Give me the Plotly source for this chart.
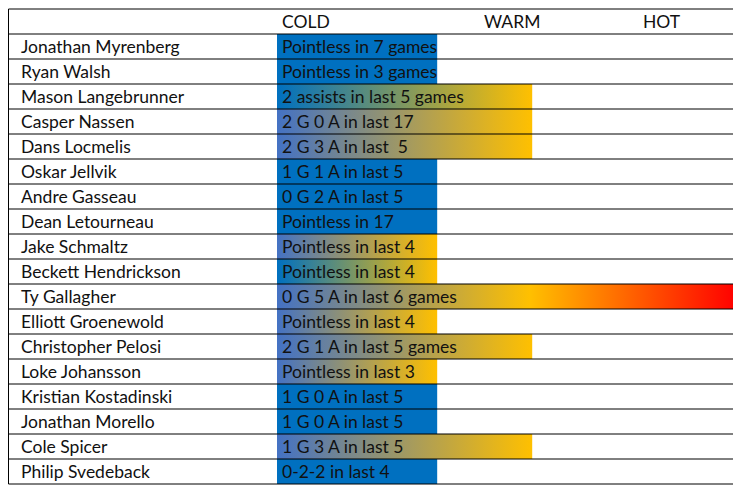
import plotly.graph_objects as go

players = ["Jonathan Myrenberg", "Ryan Walsh", "Mason Langebrunner", "Casper Nassen",
           "Dans Locmelis", "Oskar Jellvik", "Andre Gasseau", "Dean Letourneau",
           "Jake Schmaltz", "Beckett Hendrickson", "Ty Gallagher", "Elliott Groenewold",
           "Christopher Pelosi", "Loke Johansson", "Kristian Kostadinski",
           "Jonathan Morello", "Cole Spicer", "Philip Svedeback"]
notes = ["Pointless in 7 games", "Pointless in 3 games", "2 assists in last 5 games",
         "2 G 0 A in last 17", "2 G 3 A in last  5", "1 G 1 A in last 5",
         "0 G 2 A in last 5", "Pointless in 17", "Pointless in last 4",
         "Pointless in last 4", "0 G 5 A in last 6 games", "Pointless in last 4",
         "2 G 1 A in last 5 games", "Pointless in last 3", "1 G 0 A in last 5",
         "1 G 0 A in last 5", "1 G 3 A in last 5", "0-2-2 in last 4"]
# heat score on a 0-100 scale (COLD ~35, WARM ~56, HOT 100)
heat = [34.9, 34.9, 55.6, 55.6, 55.6, 34.9, 34.9, 34.9, 34.9, 34.9, 100,
        34.9, 55.6, 34.9, 34.9, 34.9, 55.6, 34.9]
# fill style per player
style = ["solid", "solid", "gradA", "gradB", "gradB", "solid", "solid", "solid",
         "gradB", "gradA", "hot", "gradB", "gradB", "gradB", "solid", "solid",
         "gradB", "solid"]
levels = ["COLD", "WARM", "HOT"]
level_pos = [0.6, 44.6, 79.2]

BLUE = "#0070C0"
BLUE2 = "#4472C4"
GOLD = "#FFC000"
RED = "#FF0000"
scales = {
    "gradA": [[0, BLUE], [1, GOLD]],
    "gradB": [[0, BLUE2], [1, GOLD]],
    "hot": [[0, BLUE2], [0.55, GOLD], [1, RED]],
}

OFF = 8  # page body margin
W, H = 741 - OFF, 493 - OFF
L, R, T, B = 0.5, 736 - OFF, 9 - OFF, 484 - OFF
COL = 277 - OFF
FONT = "Lato"
FS = 17.5
nrows = len(players) + 1

fig = go.Figure()
for i, (p, h, s) in enumerate(zip(players, heat, style)):
    y0, y1 = i + 0.5, i + 1.5
    tr = dict(x=[0, h, h, 0, 0], y=[y0, y0, y1, y1, y0], fill="toself",
              mode="lines", line=dict(width=0), hoverinfo="skip", showlegend=False)
    if s == "solid":
        tr["fillcolor"] = BLUE
    else:
        tr["fillgradient"] = dict(type="horizontal", colorscale=scales[s], start=0, stop=h)
    fig.add_trace(go.Scatter(**tr))

annotations = []
for i, (p, n) in enumerate(zip(players, notes)):
    annotations.append(dict(x=10.5 / W, xref="paper", y=i + 1, yref="y", text=p,
                            showarrow=False, xanchor="left", yanchor="middle",
                            font=dict(family=FONT, size=FS, color="#111111")))
    annotations.append(dict(x=0.6, xref="x", y=i + 1, yref="y", text=n,
                            showarrow=False, xanchor="left", yanchor="middle",
                            font=dict(family=FONT, size=FS, color="#111111")))
for lv, xp in zip(levels, level_pos):
    annotations.append(dict(x=xp, xref="x", y=0, yref="y", text=lv, showarrow=False,
                            xanchor="left", yanchor="middle",
                            font=dict(family=FONT, size=FS, color="#111111")))

shapes = []
for k in range(1, nrows):
    shapes.append(dict(type="line", xref="paper", yref="y", x0=L / W, x1=R / W,
                       y0=k - 0.5, y1=k - 0.5, line=dict(color="black", width=1),
                       layer="above"))
shapes.append(dict(type="rect", xref="paper", yref="paper", x0=L / W, x1=R / W,
                   y0=1 - B / H, y1=1 - T / H, line=dict(color="black", width=1),
                   layer="above"))

fig.update_layout(
    width=W, height=H, margin=dict(l=0, r=0, t=0, b=0),
    paper_bgcolor="white", plot_bgcolor="white",
    xaxis=dict(domain=[COL / W, R / W], range=[0, 100], visible=False, fixedrange=True),
    yaxis=dict(domain=[1 - B / H, 1 - T / H], range=[nrows - 0.5, -0.5],
               visible=False, fixedrange=True),
    annotations=annotations, shapes=shapes,
)
fig.write_html("out.html")
